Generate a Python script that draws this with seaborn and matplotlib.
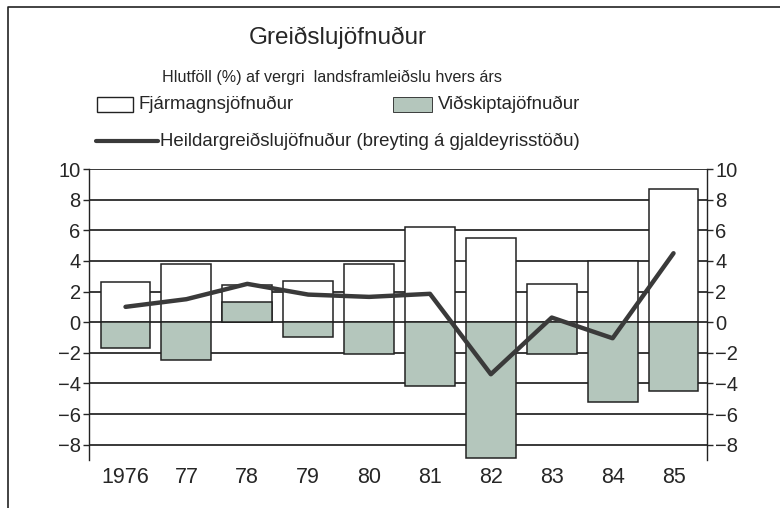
import numpy as np
import matplotlib.pyplot as plt
import matplotlib.lines as mlines
import matplotlib.patches as mpatches
import seaborn as sns

years = ['1976', '77', '78', '79', '80', '81', '82', '83', '84', '85']
capital = [2.6, 3.8, 2.4, 2.7, 3.8, 6.2, 5.5, 2.5, 4.0, 8.7]
current = [-1.7, -2.5, 1.3, -0.95, -2.1, -4.2, -8.9, -2.1, -5.2, -4.5]
total = [1.0, 1.5, 2.5, 1.8, 1.65, 1.85, -3.4, 0.3, -1.05, 4.5]
yticks = [10, 8, 6, 4, 2, 0, -2, -4, -6, -8]

sns.set_style('white')
plt.rcParams['font.family'] = ['Liberation Sans', 'DejaVu Sans']

green = '#b4c6bc'
dark = '#222222'

fig = plt.figure(figsize=(7.8, 5.08), dpi=100)
ax = fig.add_axes([89 / 780, 48 / 508, 618 / 780, 291 / 508])

sns.barplot(x=years, y=capital, color='white', saturation=1, edgecolor=dark,
            linewidth=1.1, width=0.82, ax=ax, zorder=2)
sns.barplot(x=years, y=current, color=green, saturation=1, edgecolor=dark,
            linewidth=1.1, width=0.82, ax=ax, zorder=2)
sns.lineplot(x=np.arange(len(years)), y=total, color='#3a3a3a', linewidth=3.2,
             ax=ax, zorder=3)

ax.set_xlim(-0.6, 9.55)
ax.set_ylim(-9, 10)
ax.set_xticks(range(len(years)))
ax.set_xticklabels(years)
ax.set_yticks(yticks)
ax.set_yticklabels([str(v).replace('-', '\u2212') for v in yticks])
ax.set_axisbelow(True)
ax.yaxis.grid(True, color='#2a2a2a', linewidth=1.3)
ax.xaxis.grid(False)
ax.tick_params(axis='y', direction='out', length=4, width=1, labelsize=14.5,
               left=True, right=True, labelleft=True, labelright=True, pad=2)
ax.tick_params(axis='x', length=0, labelsize=15.5, pad=5)
ax.set_xlabel('')
ax.set_ylabel('')
for side in ['top', 'bottom']:
    ax.spines[side].set_visible(False)
for side in ['left', 'right']:
    ax.spines[side].set_color(dark)
    ax.spines[side].set_linewidth(1)

W, H = 780, 508
fig.text(338 / W, 1 - 38 / H, 'Greiðslujöfnuður', ha='center', va='center', fontsize=17.5)
fig.text(332 / W, 1 - 77 / H, 'Hlutföll (%) af vergri  landsframleiðslu hvers árs',
         ha='center', va='center', fontsize=11.6)

fig.patches.append(mpatches.Rectangle((97 / W, 1 - 112 / H), 36 / W, 15 / H,
                                      transform=fig.transFigure, facecolor='white',
                                      edgecolor=dark, linewidth=1))
fig.text(139 / W, 1 - 104 / H, 'Fjármagnsjöfnuður', ha='left', va='center', fontsize=13.4)
fig.patches.append(mpatches.Rectangle((393 / W, 1 - 112 / H), 39 / W, 15 / H,
                                      transform=fig.transFigure, facecolor=green,
                                      edgecolor=dark, linewidth=0.6))
fig.text(438 / W, 1 - 104 / H, 'Viðskiptajöfnuður', ha='left', va='center', fontsize=13.4)
fig.lines.append(mlines.Line2D([96 / W, 158 / W], [1 - 141 / H, 1 - 141 / H],
                               transform=fig.transFigure, color='#3a3a3a', linewidth=3))
fig.text(160 / W, 1 - 141 / H, 'Heildargreiðslujöfnuður (breyting á gjaldeyrisstöðu)',
         ha='left', va='center', fontsize=13.4)

# outer frame (left and top edges)
fig.lines.append(mlines.Line2D([8 / W, 8 / W, 1.0], [0.0, 1 - 7 / H, 1 - 7 / H],
                               transform=fig.transFigure, color=dark, linewidth=1.2))

fig.savefig('out.png', dpi=100)
